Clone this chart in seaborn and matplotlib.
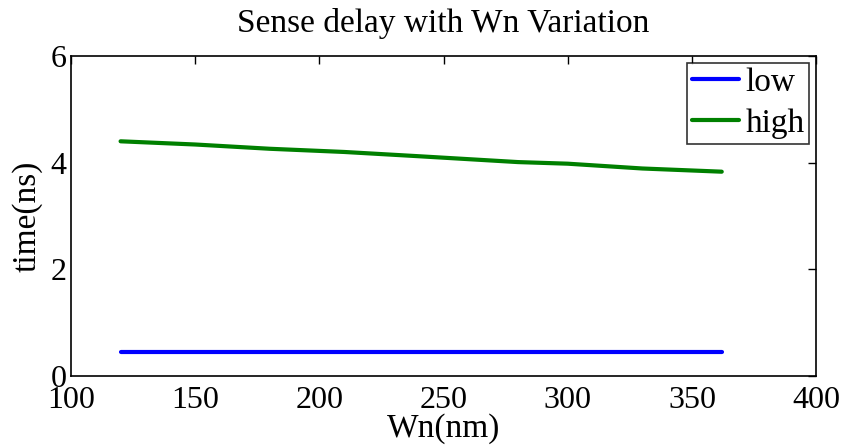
import pandas as pd
import matplotlib
matplotlib.use("Agg")
import matplotlib.pyplot as plt
import seaborn as sns

# Wn sweep (nm) and sense delay (ns)
wn = [120, 150, 180, 210, 240, 280, 300, 330, 362]
low = [0.45, 0.45, 0.45, 0.45, 0.45, 0.45, 0.45, 0.45, 0.45]
high = [4.40, 4.34, 4.26, 4.20, 4.12, 4.01, 3.98, 3.89, 3.83]

df = pd.concat([
    pd.DataFrame({"Wn": wn, "time": low, "case": "low"}),
    pd.DataFrame({"Wn": wn, "time": high, "case": "high"}),
])

sns.set_style("white")
plt.rcParams["font.family"] = ["Liberation Serif", "DejaVu Serif"]
plt.rcParams["text.color"] = "black"
plt.rcParams["axes.labelcolor"] = "black"
plt.rcParams["xtick.color"] = "black"
plt.rcParams["ytick.color"] = "black"

fig = plt.figure(figsize=(8.44, 4.48), dpi=100)
ax = fig.add_axes([0.084, 0.161, 0.883, 0.714])

sns.lineplot(data=df, x="Wn", y="time", hue="case",
             palette={"low": "#0000ff", "high": "#008000"},
             linewidth=3, ax=ax)

ax.set_xlim(100, 400)
ax.set_ylim(0, 6)
ax.set_xticks([100, 150, 200, 250, 300, 350, 400])
ax.set_yticks([0, 2, 4, 6])
ax.tick_params(direction="in", top=True, right=True, length=6, width=1,
               labelsize=23)
ax.tick_params(axis="x", pad=7)
ax.tick_params(axis="y", pad=3)
for s in ax.spines.values():
    s.set_color("black")
    s.set_linewidth(1.2)

ax.set_xlabel("Wn(nm)", fontsize=24, labelpad=-1)
ax.set_ylabel("time(ns)", fontsize=24, labelpad=6)
ax.set_title("Sense delay with Wn Variation", fontsize=24, pad=17)

leg = ax.legend(loc="upper right", fontsize=24, frameon=True, fancybox=False,
                handlelength=1.4, handletextpad=0.2, borderpad=0.15,
                labelspacing=0.3, borderaxespad=0.2)
leg.get_frame().set_edgecolor("black")
leg.get_frame().set_linewidth(1.2)
for line in leg.get_lines():
    line.set_linewidth(3)

fig.savefig("out.png", dpi=100)
